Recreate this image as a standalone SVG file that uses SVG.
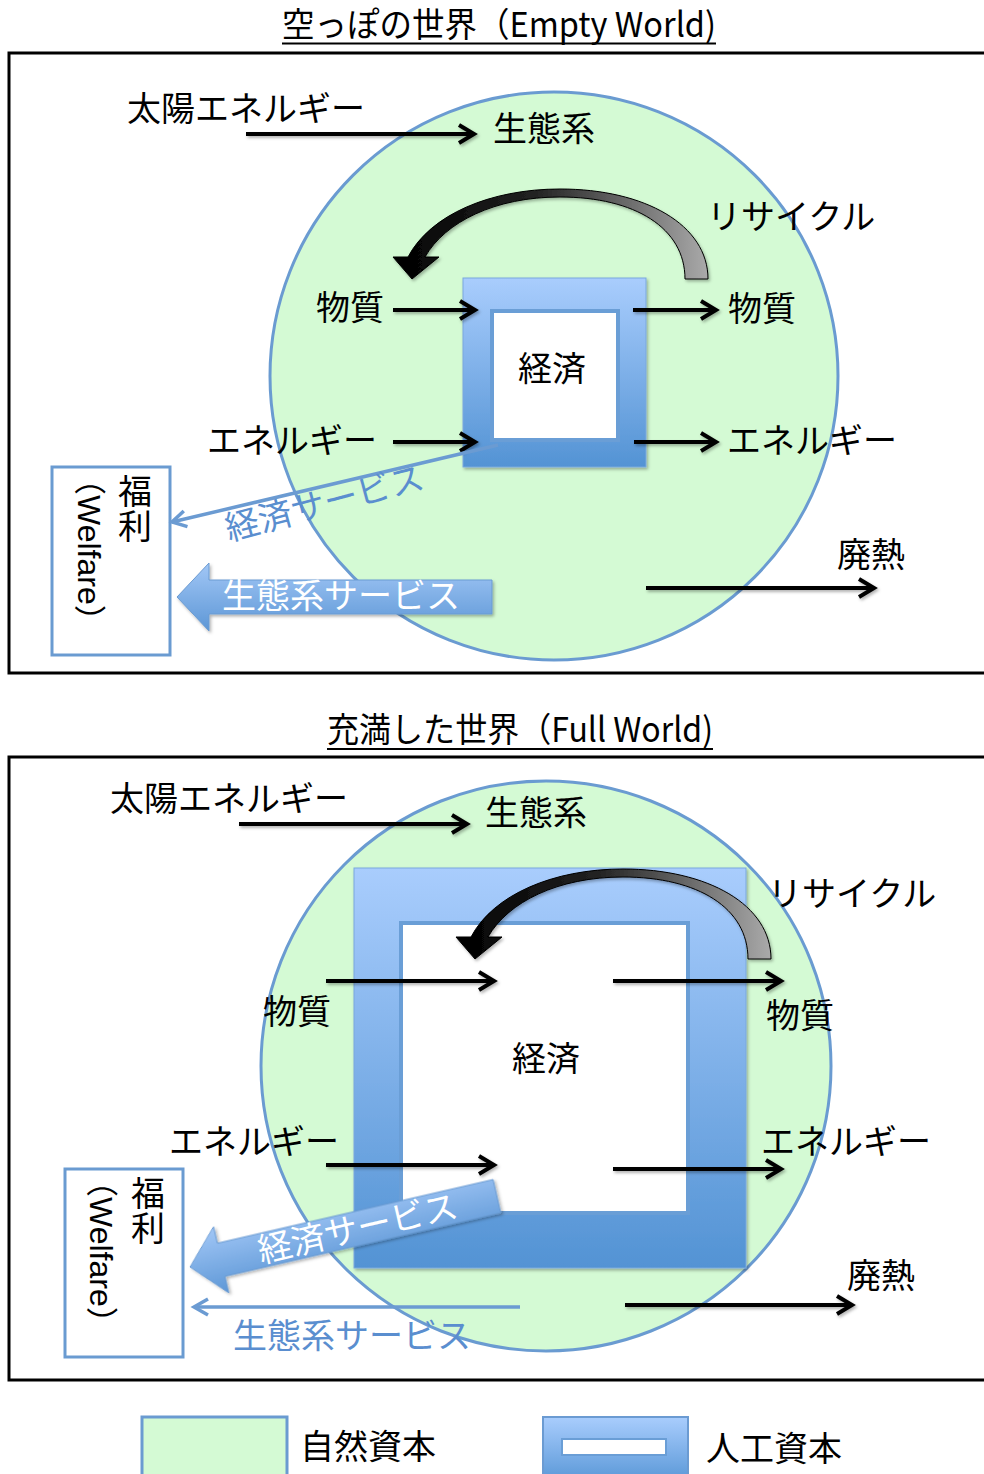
<svg xmlns="http://www.w3.org/2000/svg" width="984" height="1474" viewBox="0 0 984 1474">
<defs>
<style>
.t{font-family:"Noto Sans CJK JP","Noto Sans CJK SC",sans-serif;font-size:34px;fill:#000}
.w{fill:#fff}
.b{fill:#5a8ecf}
.frame{fill:none;stroke:#000;stroke-width:3}
.eco{fill:#d4fad4;stroke:#6a9bd1;stroke-width:3}
.arr{fill:none;stroke:#000;stroke-width:4;marker-end:url(#ah)}
.barr{fill:none;stroke:#6b9bd2;stroke-width:3.5;marker-end:url(#bh)}
.box{fill:#fff;stroke:#6a9bd1;stroke-width:3}
.inner{fill:#fff;stroke:#6a9ed6;stroke-width:4}
.wf{font-family:"Liberation Sans","Noto Sans CJK JP",sans-serif;font-size:32px;fill:#000}
</style>
<linearGradient id="econ" x1="0" y1="0" x2="0" y2="1">
<stop offset="0" stop-color="#a9cdfd"/><stop offset="1" stop-color="#5393d4"/>
</linearGradient>
<linearGradient id="blk" x1="0" y1="0" x2="0" y2="1">
<stop offset="0" stop-color="#a2c7f6"/><stop offset="1" stop-color="#5d97d6"/>
</linearGradient>
<linearGradient id="rec" x1="0" y1="0" x2="1" y2="0">
<stop offset="0" stop-color="#000"/><stop offset="0.45" stop-color="#222"/><stop offset="1" stop-color="#aaa"/>
</linearGradient>
<marker id="ah" markerUnits="userSpaceOnUse" viewBox="-20 -15 30 30" markerWidth="30" markerHeight="30" refX="0" refY="0" orient="auto" overflow="visible">
<path d="M-15,-9 L0,0 L-15,9" fill="none" stroke="#000" stroke-width="4"/>
</marker>
<marker id="bh" markerUnits="userSpaceOnUse" viewBox="-20 -15 30 30" markerWidth="30" markerHeight="30" refX="0" refY="0" orient="auto" overflow="visible">
<path d="M-14,-8 L0,0 L-14,8" fill="none" stroke="#6b9bd2" stroke-width="3.5"/>
</marker>
<filter id="sh" x="-10%" y="-20%" width="130%" height="160%">
<feDropShadow dx="1.5" dy="2" stdDeviation="1.5" flood-color="#000" flood-opacity="0.3"/>
</filter>
<path id="recycle" d="M708,279 C708,225 645,189 560,189 C490,189 430,215 408,257 L393,257 L412,279 L439,257 L425,257 C445,222 495,197 560,197 C635,197 685,228 685,279 Z"/>
<path id="block" d="M0,0 L32,-34 L32,-17 L315,-17 L315,17 L32,17 L32,34 Z"/>
</defs>

<rect width="984" height="1474" fill="#fff"/>

<!-- Titles -->
<g id="titles">
<text class="t" x="282" y="37" font-size="33" textLength="434" lengthAdjust="spacingAndGlyphs">空っぽの世界（Empty World)</text>
<line x1="282" y1="43.5" x2="716" y2="43.5" stroke="#000" stroke-width="2"/>
<text class="t" x="327" y="742" font-size="33" textLength="386" lengthAdjust="spacingAndGlyphs">充満した世界（Full World)</text>
<line x1="327" y1="749" x2="713" y2="749" stroke="#000" stroke-width="2"/>
</g>

<!-- Frames -->
<g id="frames">
<rect class="frame" x="9" y="53" width="990" height="620"/>
<rect class="frame" x="9" y="757" width="990" height="623"/>
</g>

<!-- ===== TOP PANEL ===== -->
<g id="ecosystem-top">
<circle class="eco" cx="554" cy="376" r="284"/>
<text class="t" x="493" y="141">生態系</text>
</g>
<g id="economy-top" filter="url(#sh)">
<rect x="463" y="278" width="183" height="189" fill="url(#econ)" stroke="#7aa8dd" stroke-width="1"/>
<rect class="inner" x="492" y="311" width="126" height="129"/>
</g>
<g id="economy-top-label"><text class="t" x="518" y="381">経済</text></g>

<g id="welfare-top">
<rect class="box" x="52" y="467" width="118" height="188"/>
<text class="t"><tspan x="118" y="504">福</tspan><tspan x="118" y="539">利</tspan></text>
<text class="wf" transform="translate(78,463) rotate(90)">（Welfare）</text>
</g>

<g id="labels-top">
<text class="t" x="127" y="121">太陽エネルギー</text>
<text class="t" x="707" y="229">リサイクル</text>
<text class="t" x="316" y="320">物質</text>
<text class="t" x="728" y="321">物質</text>
<text class="t" x="207" y="453">エネルギー</text>
<text class="t" x="727" y="453">エネルギー</text>
<text class="t" x="837" y="567">廃熱</text>
</g>

<g id="connectors-top">
<g filter="url(#sh)">
<line class="arr" x1="246" y1="134" x2="474" y2="134"/>
<line class="arr" x1="393" y1="310" x2="475" y2="310"/>
<line class="arr" x1="633" y1="310" x2="716" y2="310"/>
<line class="arr" x1="393" y1="442" x2="475" y2="442"/>
<line class="arr" x1="634" y1="442" x2="716" y2="442"/>
<line class="arr" x1="646" y1="588" x2="874" y2="588"/>
<use href="#recycle" fill="url(#rec)" stroke="#000" stroke-width="1"/>
</g>
<line class="barr" x1="498" y1="445" x2="172" y2="522"/>
<text class="t b" transform="translate(229,541) rotate(-15)">経済サービス</text>
<g filter="url(#sh)">
<use href="#block" transform="translate(177,597)" fill="url(#blk)" stroke="#6b9bd2" stroke-width="1"/>
</g>
<text class="t w" x="222" y="608">生態系サービス</text>
</g>

<!-- ===== BOTTOM PANEL ===== -->
<g id="ecosystem-bottom">
<circle class="eco" cx="546" cy="1066" r="285"/>
<text class="t" x="485" y="825">生態系</text>
</g>
<g id="economy-bottom" filter="url(#sh)">
<rect x="354" y="868" width="392" height="400" fill="url(#econ)" stroke="#7aa8dd" stroke-width="1"/>
<rect class="inner" x="401" y="923" width="287" height="290"/>
</g>
<g id="economy-bottom-label"><text class="t" x="512" y="1071">経済</text></g>

<g id="welfare-bottom">
<rect class="box" x="65" y="1169" width="118" height="188"/>
<text class="t"><tspan x="131" y="1206">福</tspan><tspan x="131" y="1241">利</tspan></text>
<text class="wf" transform="translate(90,1165) rotate(90)">（Welfare）</text>
</g>

<g id="labels-bottom">
<text class="t" x="110" y="811">太陽エネルギー</text>
<text class="t" x="768" y="906">リサイクル</text>
<text class="t" x="263" y="1024">物質</text>
<text class="t" x="766" y="1028">物質</text>
<text class="t" x="169" y="1154">エネルギー</text>
<text class="t" x="761" y="1154">エネルギー</text>
<text class="t" x="847" y="1288">廃熱</text>
</g>

<g id="connectors-bottom">
<g filter="url(#sh)">
<line class="arr" x1="239" y1="824" x2="467" y2="824"/>
<line class="arr" x1="326" y1="981" x2="494" y2="981"/>
<line class="arr" x1="613" y1="981" x2="781" y2="981"/>
<line class="arr" x1="326" y1="1165" x2="494" y2="1165"/>
<line class="arr" x1="613" y1="1169" x2="781" y2="1169"/>
<line class="arr" x1="625" y1="1305" x2="852" y2="1305"/>
<use href="#recycle" transform="translate(63,680)" fill="url(#rec)" stroke="#000" stroke-width="1"/>
</g>
<g transform="translate(190,1267) rotate(-13)">
<use href="#block" fill="url(#blk)" stroke="#6b9bd2" stroke-width="1" filter="url(#sh)"/>
<text class="t w" x="172" y="12" text-anchor="middle">経済サービス</text>
</g>
<line class="barr" x1="520" y1="1307" x2="194" y2="1307"/>
<text class="t b" x="233" y="1348">生態系サービス</text>
</g>

<!-- ===== LEGEND ===== -->
<g id="legend-natural">
<rect class="eco" x="142" y="1417" width="145" height="70"/>
<text class="t" x="300" y="1459">自然資本</text>
</g>
<g id="legend-manmade">
<rect x="543" y="1417" width="145" height="70" fill="url(#econ)" stroke="#6b9bd2" stroke-width="2"/>
<rect x="562" y="1439" width="104" height="16" fill="#fff" stroke="#6a9ed6" stroke-width="2"/>
<text class="t" x="706" y="1461">人工資本</text>
</g>
</svg>
